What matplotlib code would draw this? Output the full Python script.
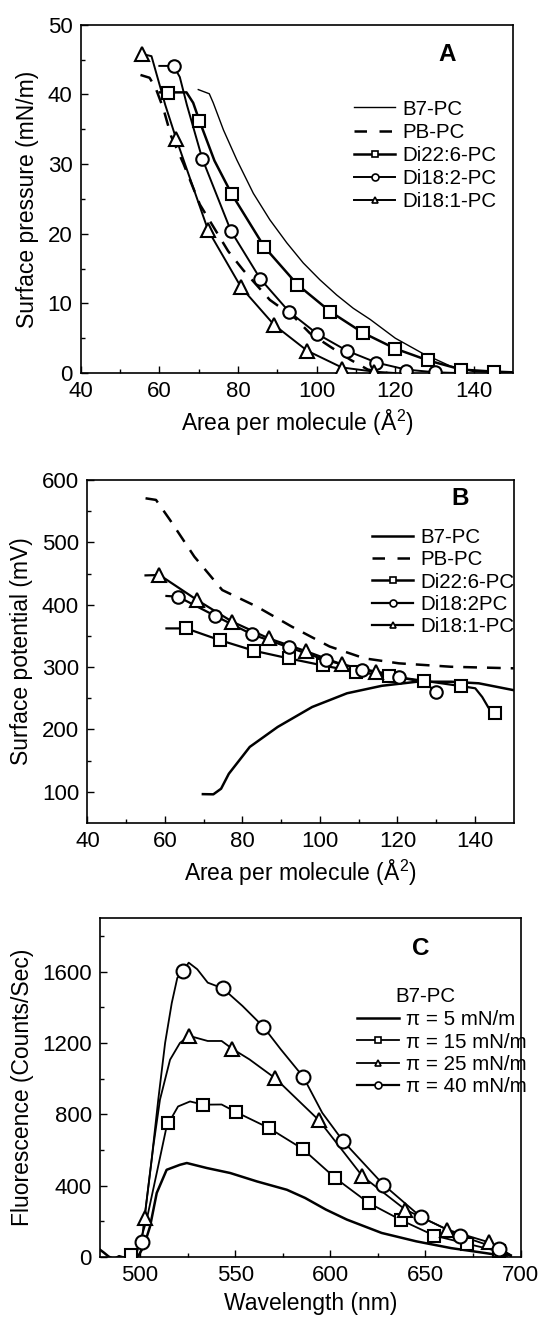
import matplotlib
matplotlib.use("Agg")
import matplotlib.pyplot as plt
from matplotlib.lines import Line2D

plt.rcParams['font.family'] = ['Liberation Sans', 'DejaVu Sans']
plt.rcParams['mathtext.fontset'] = 'custom'
plt.rcParams['mathtext.rm'] = 'Liberation Sans'
plt.rcParams['mathtext.it'] = 'Liberation Sans'

################################################################################
# Panel A: surface pressure isotherms

a_b7_x = [69.9, 72.7, 73.7, 76.3, 79.7, 83.9, 88.1, 92.4, 96.6, 100.8, 105.1, 109.3, 113.6, 120.0, 127.0, 134.0, 140.0, 150.0]
a_b7_y = [40.7, 40.1, 38.8, 34.9, 30.6, 25.8, 22.0, 18.7, 15.8, 13.4, 11.2, 9.3, 7.7, 5.0, 2.8, 1.0, 0.2, 0.0]

a_pb_x = [55.2, 57.5, 59.0, 61.0, 63.0, 66.1, 70.3, 77.5, 81.3, 88.1, 94.5, 98.3, 103.4, 108.6, 113.0, 118.0]
a_pb_y = [42.8, 42.4, 41.0, 38.0, 34.0, 30.1, 24.2, 17.5, 14.8, 10.5, 7.9, 5.7, 3.8, 1.9, 0.5, 0.0]

a_d226_x = [60.1, 62.3, 66.9, 68.6, 70.2, 74.0, 78.4, 86.7, 95.1, 103.5, 111.7, 120.0, 128.4, 136.8, 145.2, 150.0]
a_d226_y = [40.3, 40.3, 40.3, 38.8, 36.2, 30.5, 25.7, 18.1, 12.7, 8.8, 5.8, 3.5, 1.8, 0.5, 0.2, 0.1]
a_d226_mx = [62.3, 70.2, 78.4, 86.7, 95.1, 103.5, 111.7, 120.0, 128.4, 136.8, 145.2]
a_d226_my = [40.2, 36.2, 25.7, 18.1, 12.7, 8.8, 5.8, 3.5, 1.8, 0.5, 0.2]

a_d182_x = [60.0, 63.6, 65.2, 67.0, 70.9, 78.2, 85.7, 93.0, 100.2, 107.7, 115.2, 122.7, 130.2, 136.0]
a_d182_y = [44.1, 44.1, 42.5, 38.5, 30.8, 20.4, 13.5, 8.8, 5.6, 3.2, 1.5, 0.5, 0.1, 0.0]
a_d182_mx = [63.6, 70.9, 78.2, 85.7, 93.0, 100.2, 107.7, 115.2, 122.7, 130.2]
a_d182_my = [44.1, 30.8, 20.4, 13.5, 8.8, 5.6, 3.2, 1.5, 0.3, 0.1]

a_d181_x = [55.7, 58.0, 59.5, 61.5, 64.3, 72.4, 80.8, 89.2, 97.6, 106.4, 114.6, 120.0]
a_d181_y = [45.8, 45.5, 42.5, 38.5, 33.6, 20.5, 12.3, 6.9, 3.2, 0.8, 0.2, 0.0]
a_d181_mx = [55.7, 64.3, 72.4, 80.8, 89.2, 97.6, 106.4, 114.6]
a_d181_my = [45.8, 33.6, 20.5, 12.3, 6.9, 3.2, 0.6, 0.2]

################################################################################
# Panel B: surface potential

b_b7_x = [69.8, 72.5, 74.5, 76.5, 81.9, 89.1, 98.0, 107.0, 116.0, 125.0, 133.9, 141.0, 150.0]
b_b7_y = [96.3, 96.0, 105.0, 129.0, 172.0, 204.0, 236.0, 258.0, 270.0, 276.5, 276.5, 274.0, 263.0]

b_pb_x = [55.0, 57.7, 61.3, 67.6, 74.8, 83.7, 92.7, 102.5, 111.5, 120.4, 133.9, 150.0]
b_pb_y = [570.6, 568.0, 536.0, 477.0, 423.5, 397.0, 365.0, 333.0, 314.0, 306.0, 300.5, 298.0]

b_d226_x = [60.4, 65.5, 74.1, 83.1, 91.9, 100.7, 109.2, 117.9, 126.9, 136.4, 140.1, 141.9, 143.5, 145.1]
b_d226_y = [362.0, 362.0, 343.3, 326.0, 314.0, 302.7, 292.5, 285.6, 278.0, 269.5, 266.0, 252.0, 235.0, 225.7]
b_d226_mx = [65.5, 74.1, 83.1, 91.9, 100.7, 109.2, 117.9, 126.9, 136.4, 145.1]
b_d226_my = [362.0, 343.3, 326.0, 314.0, 302.7, 292.5, 285.6, 278.0, 269.5, 225.7]

b_d182_x = [60.4, 63.4, 73.0, 82.5, 92.0, 101.6, 110.9, 120.4, 126.7, 130.0]
b_d182_y = [414.0, 412.8, 382.0, 352.4, 331.6, 311.0, 296.0, 283.4, 276.5, 260.4]
b_d182_mx = [63.4, 73.0, 82.5, 92.0, 101.6, 110.9, 120.4, 130.0]
b_d182_my = [412.8, 382.0, 352.4, 331.6, 311.0, 296.0, 283.4, 260.4]

b_d181_x = [55.0, 58.6, 68.3, 77.4, 86.8, 96.3, 105.7, 114.6, 118.0]
b_d181_y = [447.0, 447.6, 407.5, 372.7, 346.0, 325.7, 304.3, 292.5, 289.0]
b_d181_mx = [58.6, 68.3, 77.4, 86.8, 96.3, 105.7, 114.6]
b_d181_my = [447.6, 407.5, 372.7, 346.0, 325.7, 304.3, 292.5]

################################################################################
# Panel C: fluorescence spectra of B7-PC

c_p5_x = [479.0, 481.0, 483.5, 486.3, 489.0, 491.8, 495.0, 499.0, 502.0, 505.3, 508.8, 514.0, 521.0, 524.6,
          535.1, 547.4, 561.4, 577.2, 586.8, 597.7, 608.7, 627.0, 645.2, 663.5, 681.7, 692.7]
c_p5_y = [41, 25, 3, -12, 5, -4, 2, 4, 60, 172, 359, 489, 517, 527,
          499, 471, 424, 377, 331, 266, 210, 135, 88, 50, 22, 4]

c_p15_x = [495.4, 498.0, 503.5, 508.8, 514.0, 520.0, 526.3, 533.3, 542.9, 550.2, 567.6, 585.5, 602.6,
           620.2, 637.4, 654.7, 671.7, 688.5, 695.0]
c_p15_y = [13, 13, 208, 471, 732, 844, 872, 854, 855, 814, 724, 606, 443,
           303, 206, 120, 75, 32, 5]
c_p15_mx = [495.4, 514.6, 533.3, 550.2, 567.6, 585.5, 602.6, 620.2, 637.4, 654.7, 671.7, 688.5]
c_p15_my = [13, 752, 854, 814, 724, 606, 443, 303, 206, 120, 75, 32]

c_p25_x = [502.4, 507.0, 510.5, 515.8, 521.0, 525.8, 535.6, 542.9, 548.4, 557.5, 571.2, 594.0, 616.9,
           639.4, 661.6, 683.6, 695.0]
c_p25_y = [219, 620, 882, 1106, 1200, 1240, 1211, 1211, 1168, 1108, 1001, 767, 453,
           266, 153, 82, 10]
c_p25_mx = [502.4, 525.8, 548.4, 571.2, 594.0, 616.9, 639.4, 661.6, 683.6]
c_p25_my = [219, 1240, 1168, 1001, 767, 453, 266, 153, 82]

c_p40_x = [500.9, 501.8, 506.1, 509.6, 513.2, 516.7, 519.6, 522.5, 525.6, 530.1, 535.6, 543.5, 553.9, 564.8,
           574.0, 585.8, 595.8, 606.8, 627.9, 647.6, 668.0, 688.5, 695.0]
c_p40_y = [87, 172, 545, 882, 1200, 1424, 1564, 1601, 1650, 1613, 1538, 1506, 1407, 1291,
           1164, 1010, 808, 649, 406, 225, 120, 47, 10]
c_p40_mx = [500.9, 522.5, 543.5, 564.8, 585.8, 606.8, 627.9, 647.6, 668.0, 688.5]
c_p40_my = [87, 1601, 1506, 1291, 1010, 649, 406, 225, 120, 47]

################################################################################

TICK = 16
LAB = 16.5
LEG = 14.8
MS = 9
DASH = (5.5, 4)


def style_axes(ax):
    ax.tick_params(which="both", direction="in", top=False, right=False, labelsize=TICK, width=1, pad=6)
    ax.tick_params(which="major", length=5)
    ax.tick_params(which="minor", length=3)
    for s in ax.spines.values():
        s.set_linewidth(1.2)


def markers(ax, x, y, m, ms=MS):
    ax.plot(x, y, linestyle="none", marker=m, ms=ms, mfc="white", mec="black", mew=1.5, zorder=5)


def handle(lw, m=None, dashes=None):
    h = Line2D([], [], color="black", lw=lw, marker=m, ms=5, mfc="white", mec="black", mew=1.2)
    if dashes is not None:
        h.set_dashes(dashes)
    return h


fig = plt.figure(figsize=(5.46, 13.2), dpi=100)

# ---------------- A
axA = fig.add_axes([0.1478, 0.7174, 0.7923, 0.2638])
axA.plot(a_b7_x, a_b7_y, color="black", lw=1.0)
axA.plot(a_pb_x, a_pb_y, color="black", lw=1.8, dashes=DASH)
axA.plot(a_d226_x, a_d226_y, color="black", lw=1.8)
axA.plot(a_d182_x, a_d182_y, color="black", lw=1.4)
axA.plot(a_d181_x, a_d181_y, color="black", lw=1.4)
markers(axA, a_d226_mx, a_d226_my, "s")
markers(axA, a_d182_mx, a_d182_my, "o")
markers(axA, a_d181_mx, a_d181_my, "^", MS + 1)
axA.set_xlim(40, 150)
axA.set_ylim(0, 50)
axA.set_xticks([40, 60, 80, 100, 120, 140])
axA.set_xticks(range(50, 150, 20), minor=True)
axA.set_yticks([0, 10, 20, 30, 40, 50])
axA.set_yticks(range(5, 50, 10), minor=True)
axA.set_xlabel("Area per molecule (Å$^2$)", fontsize=LAB, labelpad=4)
axA.set_ylabel("Surface pressure (mN/m)", fontsize=LAB, labelpad=6)
style_axes(axA)
axA.text(0.848, 0.916, "A", transform=axA.transAxes, fontsize=17.5, fontweight="bold",
         ha="center", va="center")
hA = [handle(1.0), handle(1.8, dashes=(5, 5)), handle(1.8, "s"), handle(1.4, "o"), handle(1.4, "^")]
axA.legend(hA, ["B7-PC", "PB-PC", "Di22:6-PC", "Di18:2-PC", "Di18:1-PC"], loc="upper left",
           bbox_to_anchor=(0.632, 0.785), frameon=False, fontsize=LEG, handlelength=2.0,
           handletextpad=0.35, labelspacing=0.2, borderpad=0, borderaxespad=0)

# ---------------- B
axB = fig.add_axes([0.1601, 0.3765, 0.7806, 0.2599])
axB.plot(b_b7_x, b_b7_y, color="black", lw=1.8)
axB.plot(b_pb_x, b_pb_y, color="black", lw=1.8, dashes=DASH)
axB.plot(b_d226_x, b_d226_y, color="black", lw=1.6)
axB.plot(b_d182_x, b_d182_y, color="black", lw=1.6)
axB.plot(b_d181_x, b_d181_y, color="black", lw=1.6)
markers(axB, b_d226_mx, b_d226_my, "s")
markers(axB, b_d182_mx, b_d182_my, "o")
markers(axB, b_d181_mx, b_d181_my, "^", MS + 1)
axB.set_xlim(40, 150)
axB.set_ylim(50, 600)
axB.set_xticks([40, 60, 80, 100, 120, 140])
axB.set_xticks(range(50, 150, 20), minor=True)
axB.set_yticks([100, 200, 300, 400, 500, 600])
axB.set_yticks(range(150, 600, 100), minor=True)
axB.set_xlabel("Area per molecule (Å$^2$)", fontsize=LAB, labelpad=4)
axB.set_ylabel("Surface potential (mV)", fontsize=LAB, labelpad=6)
style_axes(axB)
axB.text(0.874, 0.946, "B", transform=axB.transAxes, fontsize=17.5, fontweight="bold",
         ha="center", va="center")
hB = [handle(1.8), handle(1.8, dashes=(5, 5)), handle(1.8, "s"), handle(1.6, "o"), handle(1.6, "^")]
axB.legend(hB, ["B7-PC", "PB-PC", "Di22:6-PC", "Di18:2PC", "Di18:1-PC"], loc="upper left",
           bbox_to_anchor=(0.668, 0.86), frameon=False, fontsize=LEG, handlelength=2.0,
           handletextpad=0.35, labelspacing=0.16, borderpad=0, borderaxespad=0)

# ---------------- C
axC = fig.add_axes([0.1832, 0.0477, 0.7702, 0.2568])
axC.plot(c_p5_x, c_p5_y, color="black", lw=1.8)
axC.plot(c_p15_x, c_p15_y, color="black", lw=1.3)
axC.plot(c_p25_x, c_p25_y, color="black", lw=1.3)
axC.plot(c_p40_x, c_p40_y, color="black", lw=1.3)
markers(axC, c_p15_mx, c_p15_my, "s")
markers(axC, c_p25_mx, c_p25_my, "^", MS + 1)
markers(axC, c_p40_mx, c_p40_my, "o", MS + 1)
axC.set_xlim(479, 700)
axC.set_ylim(0, 1900)
axC.set_xticks([500, 550, 600, 650, 700])
axC.set_xticks([525, 575, 625, 675], minor=True)
axC.set_yticks([0, 400, 800, 1200, 1600])
axC.set_yticks([200, 600, 1000, 1400, 1800], minor=True)
axC.set_xlabel("Wavelength (nm)", fontsize=LAB, labelpad=4)
axC.set_ylabel("Fluorescence (Counts/Sec)", fontsize=LAB, labelpad=6)
style_axes(axC)
axC.text(0.763, 0.911, "C", transform=axC.transAxes, fontsize=17.5, fontweight="bold",
         ha="center", va="center")
axC.text(0.773, 0.768, "B7-PC", transform=axC.transAxes, fontsize=LEG, ha="center", va="center")
hC = [handle(1.8), handle(1.3, "s"), handle(1.3, "^"), handle(1.6, "o")]
axC.legend(hC, ["π = 5 mN/m", "π = 15 mN/m", "π = 25 mN/m", "π = 40 mN/m"],
           loc="upper left", bbox_to_anchor=(0.612, 0.728), frameon=False, fontsize=LEG,
           handlelength=2.0, handletextpad=0.35, labelspacing=0.16, borderpad=0, borderaxespad=0)

fig.savefig("out.png", dpi=100)
